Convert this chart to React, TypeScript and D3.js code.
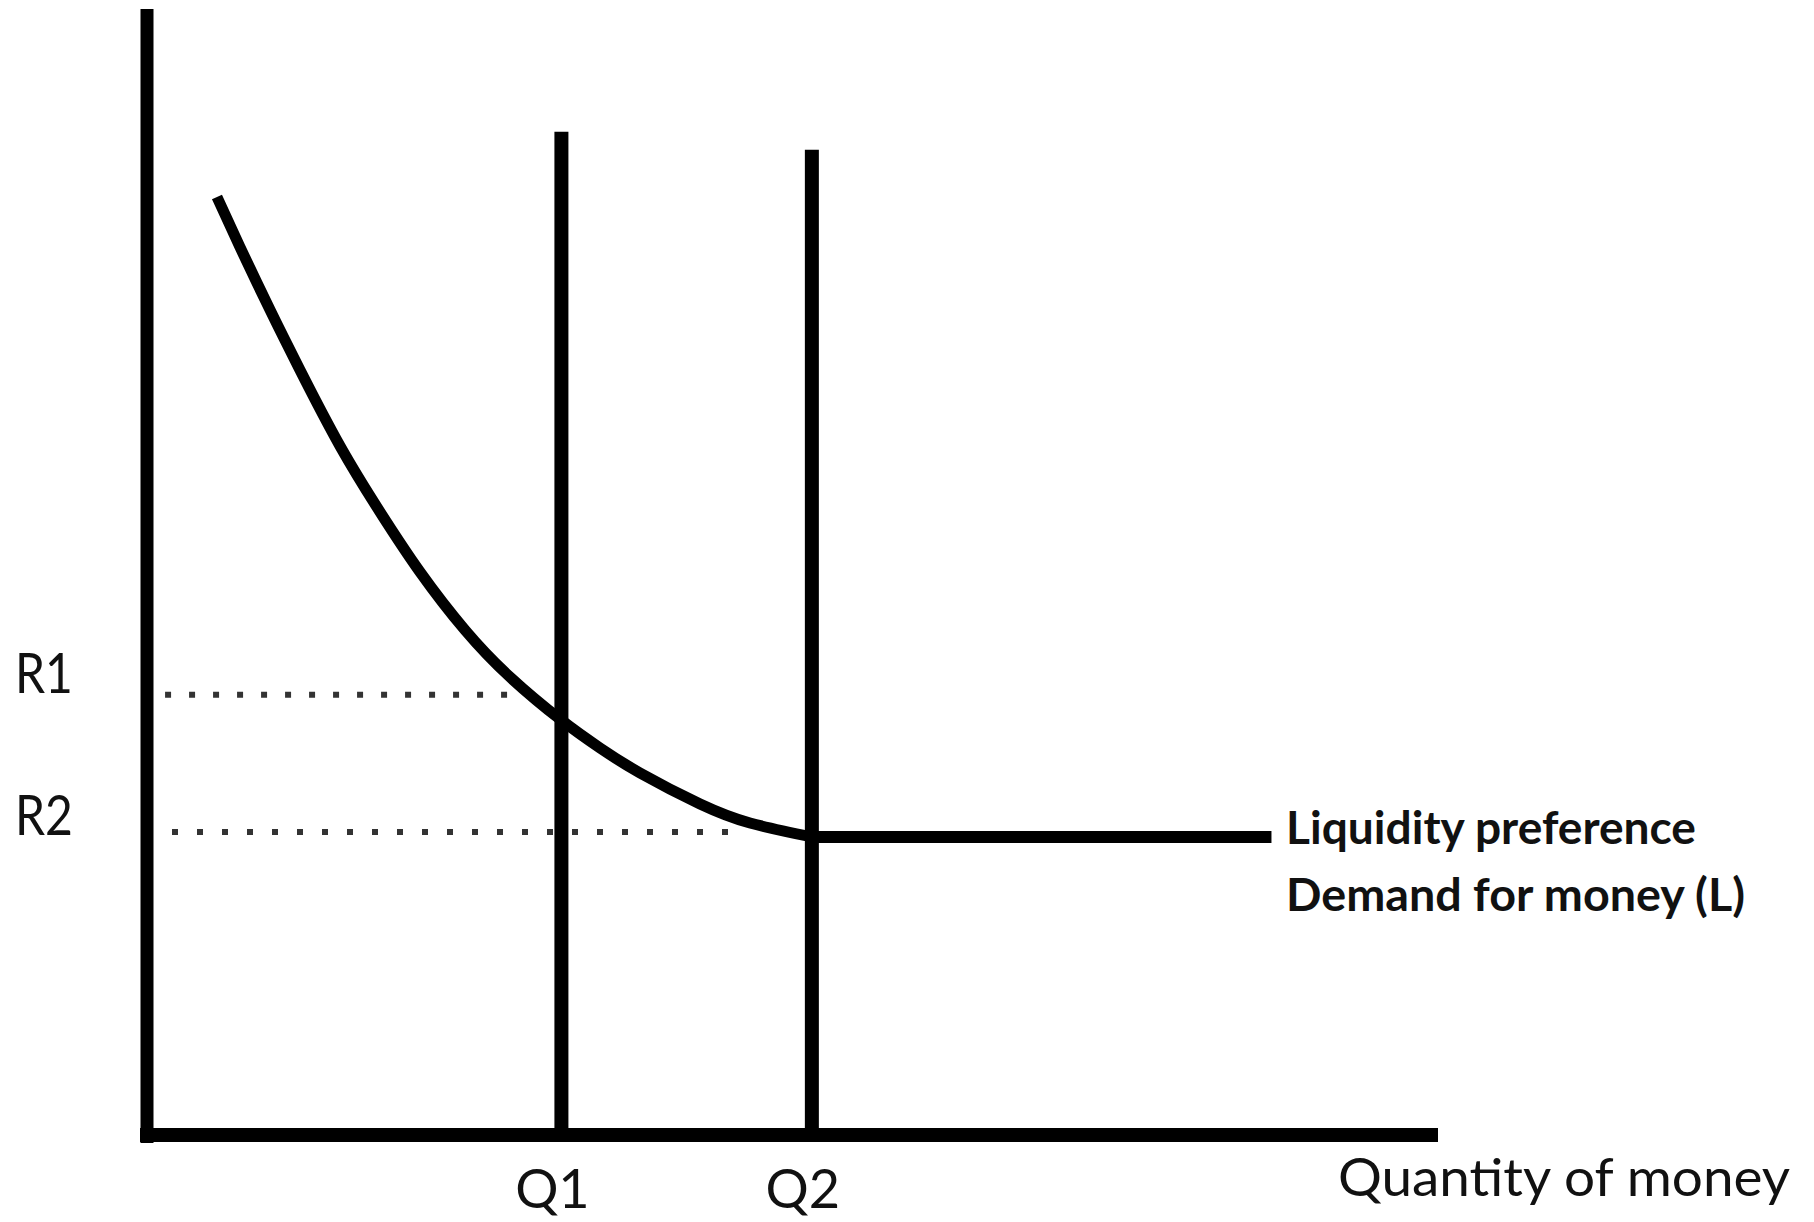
import React from 'react';
import * as d3 from 'd3';

const W = 1814;
const H = 1222;

// Liquidity preference curve (quantity, rate) in chart units
const curveQ = [5.42, 7.2, 9.53, 11.85, 14.95, 18.05, 21.15, 24.63, 28.12, 32.07, 35.09, 38.19, 42.84, 46.71, 51.51];
const curveR = [83.3, 78.86, 73.27, 67.94, 61.19, 55.33, 50.0, 44.85, 40.67, 36.86, 34.37, 32.15, 29.4, 27.71, 26.47];
// Flat (liquidity trap) section
const flatQ = [51.51, 87.1];
const flatR = [26.47, 26.47];
// Money supply verticals
const supplyLabels = ['Q1', 'Q2'];
const supplyQ = [32.1, 51.5];
const supplyTop = [89.1, 87.5];
// Interest rate guides
const rateLabels = ['R1', 'R2'];
const rateR = [39.1, 26.9];
const rateFrom = [1.4, 0];
const rateTo = [28.1, 45.9];

const curveLabel = ['Liquidity preference', 'Demand for money (L)'];
const xTitle = 'Quantity of money';

export default function App() {
  const x = d3.scaleLinear().domain([0, 100]).range([147, 1438]);
  const y = d3.scaleLinear().domain([0, 100]).range([1135, 9]);

  const pts: [number, number][] = curveQ.map((q, i) => [q, curveR[i]]);
  const line = d3
    .line<[number, number]>()
    .x((d) => x(d[0]))
    .y((d) => y(d[1]))
    .curve(d3.curveNatural);
  const flat = d3
    .line<[number, number]>()
    .x((d) => x(d[0]))
    .y((d) => y(d[1]));
  const flatPts: [number, number][] = flatQ.map((q, i) => [q, flatR[i]]);

  const font = 'Lato, "Open Sans", sans-serif';
  const ink = '#111';

  return (
    <svg
      width={W}
      height={H}
      viewBox={`0 0 ${W} ${H}`}
      style={{ position: 'absolute', left: 0, top: 0, background: '#fff' }}
    >
      <rect x={0} y={0} width={W} height={H} fill="#fff" />
      {/* dotted rate guides */}
      {rateR.map((r, i) => (
        <line
          key={'g' + i}
          x1={x(rateFrom[i])}
          x2={x(rateTo[i])}
          y1={y(r)}
          y2={y(r)}
          stroke="#333"
          strokeWidth={6}
          strokeDasharray={i === 0 ? '6 18' : '6 19'}
        />
      ))}
      {/* money supply lines */}
      {supplyQ.map((q, i) => (
        <line
          key={'s' + i}
          x1={x(q)}
          x2={x(q)}
          y1={y(supplyTop[i])}
          y2={y(0)}
          stroke="#000"
          strokeWidth={14}
        />
      ))}
      {/* demand curve */}
      <path d={line(pts) || ''} fill="none" stroke="#000" strokeWidth={11} />
      <path d={flat(flatPts) || ''} fill="none" stroke="#000" strokeWidth={12} />
      {/* axes */}
      <line x1={x(0)} x2={x(0)} y1={y(100)} y2={y(0) + 8} stroke="#000" strokeWidth={13} />
      <line x1={x(0) - 7} x2={x(100)} y1={y(0)} y2={y(0)} stroke="#000" strokeWidth={14} />
      {/* rate labels */}
      {rateLabels.map((t, i) => (
        <text
          key={'rl' + i}
          x={15}
          y={y(rateR[i]) + (i === 0 ? -2 : 3)}
          fontFamily={font}
          fontSize={57}
          fill={ink}
          textLength={58}
          lengthAdjust="spacingAndGlyphs"
        >
          {t}
        </text>
      ))}
      {/* quantity labels */}
      {supplyLabels.map((t, i) => (
        <text
          key={'ql' + i}
          x={x(supplyQ[i]) - 9}
          y={1208}
          textAnchor="middle"
          fontFamily={font}
          fontSize={54}
          fill={ink}
        >
          {t}
        </text>
      ))}
      {/* x title */}
      <text
        x={1338}
        y={1196}
        fontFamily={font}
        fontSize={53}
        fill={ink}
        textLength={452}
        lengthAdjust="spacingAndGlyphs"
      >
        {xTitle}
      </text>
      {/* curve label */}
      <text
        x={1286}
        y={844}
        fontFamily={font}
        fontSize={46}
        fontWeight={700}
        fill={ink}
        textLength={410}
        lengthAdjust="spacingAndGlyphs"
      >
        {curveLabel[0]}
      </text>
      <text
        x={1286}
        y={911}
        fontFamily={font}
        fontSize={46}
        fontWeight={700}
        fill={ink}
        textLength={459}
        lengthAdjust="spacingAndGlyphs"
      >
        {curveLabel[1]}
      </text>
    </svg>
  );
}
